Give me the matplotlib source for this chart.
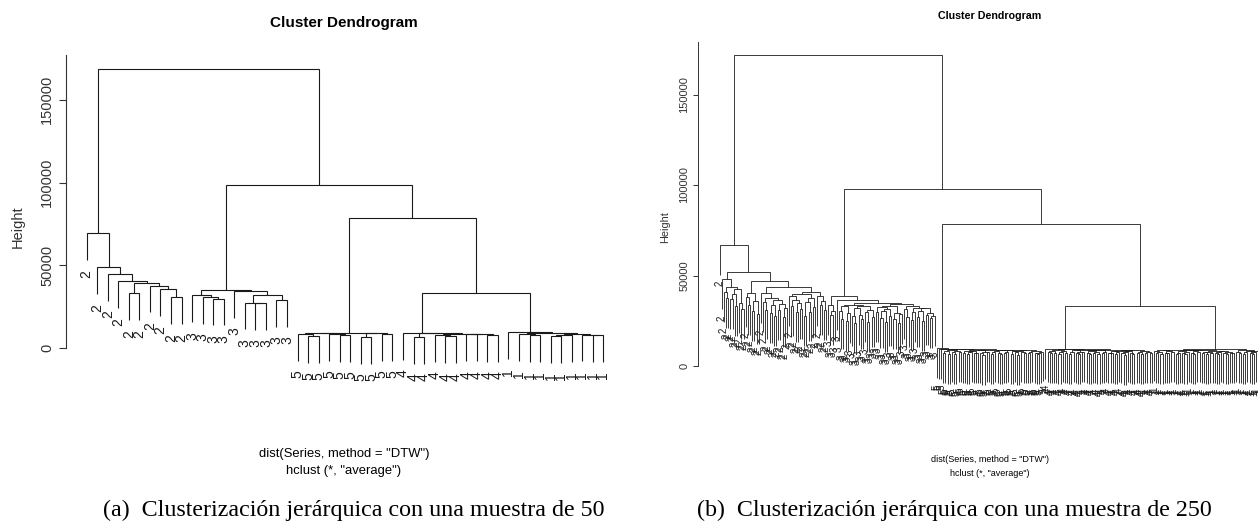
"""
Two hierarchical-clustering dendrograms (DTW distance, average linkage),
redrawn in the style of R's plot.hclust.
"""
import numpy as np
import matplotlib
matplotlib.use('Agg')
import matplotlib.pyplot as plt

W, H = 1258, 521

# ---------------------------------------------------------------------------
# Data.  Each list holds the merge height between neighbouring leaves in the
# plotted order, one list per class block; *_links join consecutive blocks.

# panel (a): 50 series
a_classes = ['2', '3', '5', '4', '1']
a_g2 = [69300, 48800, 44700, 40300, 33000, 39100, 37700, 35500, 30600]
a_g3 = [31800, 30800, 29800, 35100, 34500, 27400, 27000, 31800, 29000]
a_g5 = [8600, 7400, 9000, 8600, 7800, 9300, 6800, 8900, 8300]
a_g4 = [9200, 6500, 8800, 8000, 7000, 8500, 8200, 8400, 7800]
a_g1 = [9400, 8300, 7900, 8900, 7400, 8000, 8600, 8100, 7700]
a_links = [168700, 98500, 78400, 33000]

# panel (b): 250 series
b_classes = ['2', '3', '5', '4', '1']
b_g2 = [66800, 47900,
        41000, 37500, 43600, 36800, 39900, 33200, 42300, 35000, 31500,
        52100,
        38300, 33600, 40200, 30400, 36100, 28700,
        47000,
        40100, 35400, 31200, 37800, 29300, 33900, 27500, 36600, 30800,
        34200, 26900, 32000,
        43500,
        38900, 33100, 36400, 29800, 34700, 31300, 39600, 27800, 35200,
        30100, 37300, 32600,
        41100,
        38400, 33500, 35900, 30700]
b_g3 = [33800, 27900, 30600, 38700, 36500,
        30500, 26200, 32900, 24800, 29100, 33700, 27400, 23600, 31800,
        28300, 25700, 33000, 29600, 24300, 30900, 27100,
        35000,
        29800, 32400, 26500, 30200, 24100, 31300, 27800, 33200, 25900,
        29400, 23800, 28600,
        34100,
        31700, 27200, 33300, 25600, 29900, 32100, 26800, 30400, 24700,
        31900, 28100, 29200, 26400, 27600]
b_g5 = [9800, 9600, 9400,
        7200, 8100, 6800, 8900, 7500, 6400, 8300, 7700, 9300, 7000, 8500,
        6600, 7900, 8200, 6900, 7400, 8800, 7100, 6300, 8000, 7600, 9100,
        6700, 7800, 8400, 7300, 6500, 8600, 7000, 7700, 9000, 6800, 8100,
        7500, 6200, 8300, 7900, 7200, 8700, 6900, 7600, 8200, 7100, 6600,
        7400, 8000]
b_g4 = [9500,
        7800, 6900, 8400, 7300, 8800, 6600, 7700, 8200, 7100, 9200, 6800,
        7500, 8600, 7000, 6400, 8000, 7600, 8900, 7200, 6700, 8300, 7400,
        7900, 6500, 8700, 7100, 7800, 9000, 6900, 7300, 8100, 6600, 7700,
        8500, 7000, 6300, 7600, 8200, 7400, 6800, 8800, 7200, 7900, 6500,
        8400, 7100, 7500, 6900]
b_g1 = [8300, 7100, 7800, 6600, 8700, 7400, 6900, 8100, 7600, 9100, 6800,
        7300, 8400, 7000, 6500, 7900, 8600, 7200, 6700, 8200, 7500, 8900,
        6900, 7700, 6400, 8000, 7300, 8500, 7100, 6800, 7600, 8300, 7000,
        6600, 7800, 7400, 6900,
        9400,
        7900, 7200, 8600, 6800, 7500, 8100, 7000, 6500, 7700, 8300, 7300]
b_links = [171600, 97800, 78500, 33100]

y_ticks = [0, 50000, 100000, 150000]

SANS = ['Liberation Sans', 'DejaVu Sans']
SERIF = ['Liberation Serif', 'DejaVu Serif']
INK = '#1a1a1a'


# ---------------------------------------------------------------------------
def assemble(blocks, links, classes):
    gaps = list(blocks[0])
    for link, blk in zip(links, blocks[1:]):
        gaps += [link] + list(blk)
    labels = []
    for cls, blk in zip(classes, blocks):
        labels += [cls] * (len(blk) + 1)
    return np.asarray(gaps, float), labels


def dendro(ax, gaps, labels, label_size, label_off, lw):
    # rebuild the tree: the largest neighbour gap in a run is its top merge
    hang = 0.1 * (gaps.max() - gaps.min())

    def node(lo, hi):
        if lo == hi:
            return lo + 1.0, None
        k = lo + int(np.argmax(gaps[lo:hi]))
        h = gaps[k]
        xl, hl = node(lo, k)
        xr, hr = node(k + 1, hi)
        yl = h - hang if hl is None else hl
        yr = h - hang if hr is None else hr
        ax.plot([xl, xl, xr, xr], [yl, h, h, yr], color=INK, lw=lw,
                solid_joinstyle='miter', solid_capstyle='butt')
        for x, hc, y in ((xl, hl, yl), (xr, hr, yr)):
            if hc is None:
                ax.text(x, y - label_off, labels[int(x) - 1], rotation=90,
                        ha='center', va='top', fontsize=label_size,
                        family=SANS, color=INK)
        return (xl + xr) / 2, h

    node(0, len(labels) - 1)


def style_axes(ax, n, ylim, tick_size, tick_len, pad, lw):
    pad_x = 0.04 * (n - 1)
    ax.set_xlim(1 - pad_x, n + pad_x)
    ax.set_ylim(*ylim)
    for s in ('top', 'right', 'bottom'):
        ax.spines[s].set_visible(False)
    ax.spines['left'].set_bounds(0, ylim[1])
    ax.spines['left'].set_linewidth(lw)
    ax.spines['left'].set_color('#333333')
    ax.set_xticks([])
    ax.set_yticks(y_ticks)
    ax.set_yticklabels([str(t) for t in y_ticks], rotation=90, va='center',
                       fontsize=tick_size, family=SANS, color='#333333')
    ax.tick_params(axis='y', length=tick_len, width=lw, pad=pad,
                   color='#333333')
    ax.patch.set_alpha(0)


def px(x, y):
    return x / W, 1 - y / H


def label(x, y, s, size, **kw):
    kw.setdefault('family', SANS)
    return fig.text(*px(x, y), s, ha='center', va='center', fontsize=size, **kw)


# ---------------------------------------------------------------------------
fig = plt.figure(figsize=(W / 100, H / 100), dpi=100)

# panel (a)
gaps_a, labels_a = assemble([a_g2, a_g3, a_g5, a_g4, a_g1], a_links, a_classes)
ax_a = fig.add_axes([66 / W, 1 - 430 / H, 558 / W, 375 / H])
style_axes(ax_a, len(labels_a), (-49600, 177100), 10.5, 5, 3.5, 0.8)
dendro(ax_a, gaps_a, labels_a, 10, 5800, 0.8)

label(344, 23, 'Cluster Dendrogram', 11, fontweight='bold')
label(18, 227, 'Height', 10.5, rotation=90, color='#333333')
label(344, 454, 'dist(Series, method = "DTW")', 9.4)
label(344, 471, 'hclust (*, "average")', 9.4)
fig.text(*px(103, 510), '(a)  Clusterización jerárquica con una muestra de 50',
         ha='left', va='center', fontsize=17.3, family=SERIF)

# panel (b)
gaps_b, labels_b = assemble([b_g2, b_g3, b_g5, b_g4, b_g1], b_links, b_classes)
ax_b = fig.add_axes([698 / W, 1 - 440 / H, 584 / W, 398.3 / H])
style_axes(ax_b, len(labels_b), (-40900, 179200), 8, 3.6, 2.5, 0.7)
dendro(ax_b, gaps_b, labels_b, 7, 3300, 0.6)

label(990, 16, 'Cluster Dendrogram', 7.7, fontweight='bold')
label(665, 227, 'Height', 7.8, rotation=90, color='#333333')
label(990, 460, 'dist(Series, method = "DTW")', 6.5)
label(990, 473, 'hclust (*, "average")', 6.5)
fig.text(*px(697, 510), '(b)  Clusterización jerárquica con una muestra de 250',
         ha='left', va='center', fontsize=17.3, family=SERIF)

fig.savefig('out.png', dpi=100)
